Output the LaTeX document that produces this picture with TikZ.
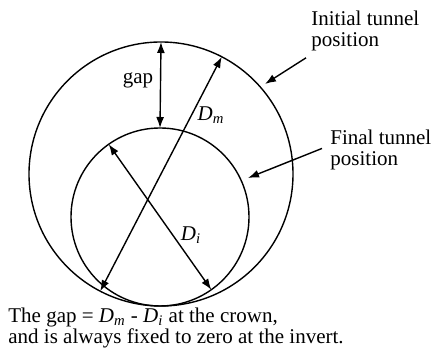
\documentclass[tikz,border=0pt]{standalone}
\usepackage{fontspec}
\setmainfont{Liberation Serif}
\usetikzlibrary{arrows.meta, positioning, calc}
\newcommand{\diamM}{\textit{D}\textsubscript{\textit{m}}}
\newcommand{\diamI}{\textit{D}\textsubscript{\textit{i}}}
\begin{document}
\begin{tikzpicture}[
        x=0.5pt, y=0.5pt,
        % Tunnel outlines
        tunnel/.style={draw=black, line width=0.7pt},
        % Dimension arrows
        dimArrow/.style={{Latex[length=5.5pt, width=4pt]}-{Latex[length=5.5pt, width=4pt]}, line width=0.7pt},
        leaderArrow/.style={-{Latex[length=5.5pt, width=4pt]}, line width=0.7pt},
        % Text styles
        label/.style={font=\fontsize{10.5}{10.5}\selectfont, inner sep=1pt},
        note/.style={label, align=left}
    ]

    % --- FRAME ---
    \useasboundingbox (0, 0) rectangle (433, 356);

    % --- TUNNELS ---
    \coordinate (outerC) at (161, 182);
    \coordinate (innerC) at (160, 139);
    \draw[tunnel] (outerC) circle [radius=132];
    \draw[tunnel] (innerC) circle [radius=89];

    % --- END POINTS ON THE CIRCLES ---
    \coordinate (crownOut) at ($(outerC)+(90:132)$);
    \coordinate (crownIn)  at ($(innerC)+(90:89)$);
    \coordinate (dmTop) at ($(outerC)+(62.6:132)$);
    \coordinate (dmBot) at ($(outerC)+(242.6:132)$);
    \coordinate (diTop) at ($(innerC)+(125.2:89)$);
    \coordinate (diBot) at ($(innerC)+(305.2:89)$);

    % --- DIMENSIONS ---
    \draw[dimArrow] (crownOut) -- (crownIn);
    \draw[dimArrow] (dmTop) -- (dmBot);
    \draw[dimArrow] (diTop) -- (diBot);

    \node[label] (gapLabel) at (138, 276) {gap};
    \node[label] (dmLabel)  at (211, 241) {\diamM};
    \node[label] (diLabel)  at (191, 121) {\diamI};

    % --- CALLOUTS ---
    \node[note, anchor=north west] (initial) at (309, 347) {Initial tunnel\\position};
    \node[note, anchor=north west] (final)   at (328, 228) {Final tunnel\\position};

    \coordinate (initialTip) at (265, 272);
    \coordinate (finalTip)   at (248, 178);
    \draw[leaderArrow] (initial.south west) ++(-3, -4) coordinate (initialTail) -- (initialTip);
    \draw[leaderArrow] (final.west) ++(-6, 2) coordinate (finalTail) -- (finalTip);

    % --- CAPTION ---
    \node[note, anchor=west] (caption) at (6, 28)
        {The gap = \diamM\ - \diamI\ at the crown,\\and is always fixed to zero at the invert.};

\end{tikzpicture}
\end{document}
